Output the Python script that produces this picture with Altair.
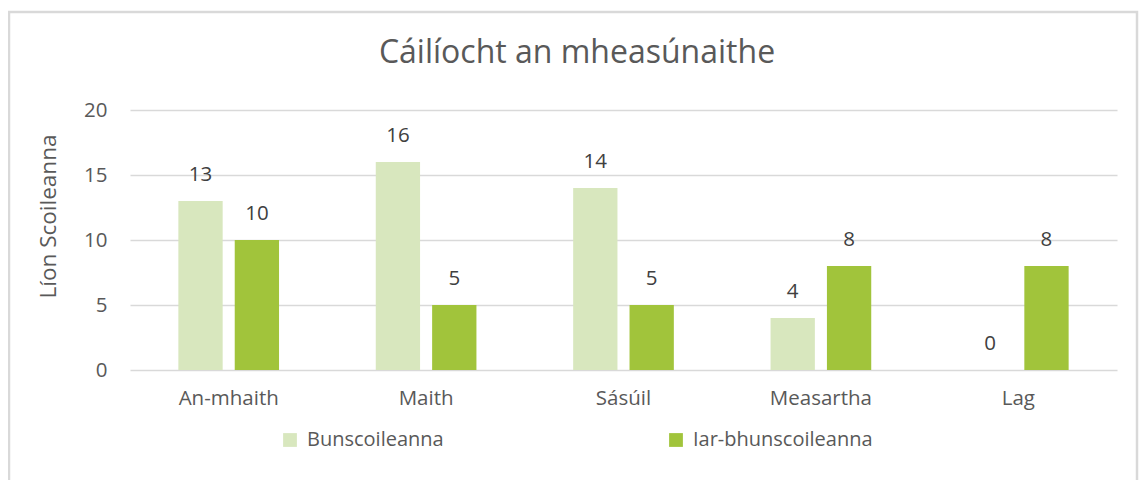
import altair as alt
import pandas as pd

categories = ["An-mhaith", "Maith", "Sásúil", "Measartha", "Lag"]
series_names = ["Bunscoileanna", "Iar-bhunscoileanna"]
bunscoileanna = [13, 16, 14, 4, 0]
iar_bhunscoileanna = [10, 5, 5, 8, 8]
colors = ["#D8E7BE", "#A1C43B"]
title_text = "Cáilíocht an mheasúnaithe"

rows = []
for c, v in zip(categories, bunscoileanna):
    rows.append({"cat": c, "series": series_names[0], "value": v})
for c, v in zip(categories, iar_bhunscoileanna):
    rows.append({"cat": c, "series": series_names[1], "value": v})
df = pd.DataFrame(rows)

FONT = "Open Sans"
TXT = "#595959"

x_enc = alt.X("cat:N", sort=categories, title=None,
              scale=alt.Scale(paddingInner=0.49, paddingOuter=0.245),
              axis=alt.Axis(labelAngle=0, labelFontSize=20.5, labelColor=TXT, labelFont=FONT,
                            labelPadding=18, ticks=False, domain=False))
xoff = alt.XOffset("series:N", sort=series_names,
                   scale=alt.Scale(paddingInner=0.214, paddingOuter=0))

bars = alt.Chart(df).mark_bar().encode(
    x=x_enc,
    xOffset=xoff,
    y=alt.Y("value:Q", title="Líon Scoileanna",
            scale=alt.Scale(domain=[0, 20]),
            axis=alt.Axis(values=[0, 5, 10, 15, 20], labelFontSize=20.5, labelColor=TXT,
                          labelFont=FONT, labelPadding=23, ticks=False, domain=False,
                          gridColor="#D9D9D9", gridWidth=1.5,
                          titleFontSize=22.5, titleFont=FONT, titleColor=TXT,
                          titleFontWeight="normal", titleX=-82, titleY=106,
                          titleAlign="center", titleBaseline="middle", titleAngle=270)),
    color=alt.Color("series:N", sort=series_names,
                    scale=alt.Scale(domain=series_names, range=colors),
                    legend=alt.Legend(title=None, orient="none", direction="horizontal",
                                      legendX=150, legendY=320, symbolType="square",
                                      symbolSize=190, symbolStrokeWidth=0,
                                      labelFontSize=20, labelFont=FONT, labelColor=TXT,
                                      columnPadding=222, labelOffset=7, labelLimit=400)),
)

labels = alt.Chart(df).mark_text(baseline="middle", dy=-26, fontSize=20.5,
                                 font=FONT, color="#404040").encode(
    x=alt.X("cat:N", sort=categories),
    xOffset=xoff,
    y=alt.Y("value:Q"),
    text=alt.Text("value:Q"),
)

title_df = pd.DataFrame({"t": [title_text]})
title = alt.Chart(title_df).mark_text(fontSize=32, font=FONT, color=TXT,
                                      baseline="middle", align="center").encode(
    x=alt.value(447), y=alt.value(-57), text="t:N"
)

border_df = pd.DataFrame({"k": [0]})
border = alt.Chart(border_df).mark_rect(fill=None, stroke="#D9D9D9", strokeWidth=2.5).encode(
    x=alt.value(-121), x2=alt.value(1007), y=alt.value(-98), y2=alt.value(420)
)

chart = alt.layer(border, title, bars, labels).properties(
    width=987, height=260,
    autosize=alt.AutoSizeParams(type="none"),
    padding={"left": 122, "top": 102, "right": 22, "bottom": 110},
).configure_view(stroke=None)

chart.save("out.html", embed_options={"renderer": "svg", "actions": False})
